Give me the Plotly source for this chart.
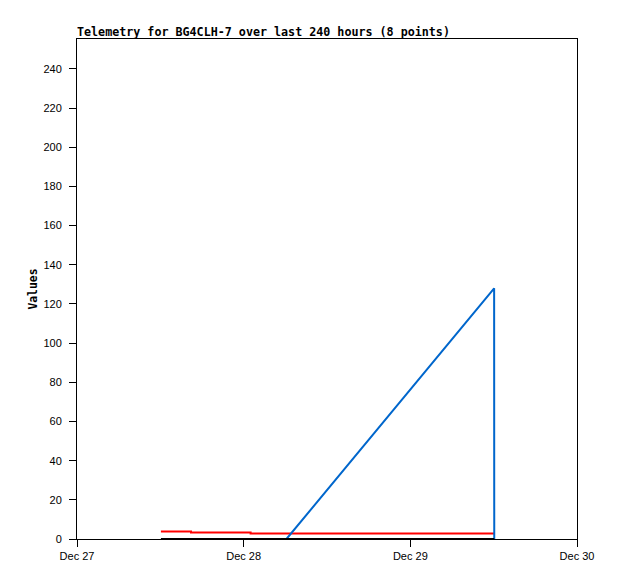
import plotly.graph_objects as go

title_text = "Telemetry for BG4CLH-7 over last 240 hours (8 points)"
y_title = "Values"

red_times = ["2023-12-27 12:05", "2023-12-27 16:25", "2023-12-28 01:00", "2023-12-29 12:05"]
red_values = [3.8, 3.3, 2.8, 2.8]

blue_times = ["2023-12-28 06:10", "2023-12-29 12:04", "2023-12-29 12:05"]
blue_values = [0, 128, 0]

black_times = ["2023-12-27 12:05", "2023-12-29 12:05"]
black_values = [0, 0]

x_tick_vals = ["2023-12-27", "2023-12-28", "2023-12-29", "2023-12-30"]
x_tick_text = ["Dec 27", "Dec 28", "Dec 29", "Dec 30"]
y_tick_vals = list(range(0, 241, 20))

fig = go.Figure()
fig.add_trace(go.Scatter(x=red_times, y=red_values, mode="lines", line=dict(color="#ff0000", width=2, shape="hv"), showlegend=False))
fig.add_trace(go.Scatter(x=blue_times, y=blue_values, mode="lines", line=dict(color="#0066cc", width=2), showlegend=False))
fig.add_trace(go.Scatter(x=black_times, y=black_values, mode="lines", line=dict(color="#000000", width=2), showlegend=False, cliponaxis=False))

mono = "DejaVu Sans Mono"
sans = "Liberation Sans"
W, H = 602, 565
T = 31
fig.update_layout(
    width=W, height=H,
    margin=dict(l=69, r=W - 69 - 500, t=T, b=H - T - 500),
    paper_bgcolor="white", plot_bgcolor="white",
    title=dict(text="<b>" + title_text + "</b>", x=69 / W, xanchor="left", y=1 - 24 / H, yanchor="middle",
               font=dict(family=mono, size=11.7, color="black")),
    font=dict(family=sans, size=11, color="black"),
    xaxis=dict(type="date", range=["2023-12-27", "2023-12-30"], tickvals=x_tick_vals, ticktext=x_tick_text,
               showgrid=False, zeroline=False, showline=True, linecolor="black", linewidth=1, mirror=True,
               ticks="outside", ticklen=7, tickcolor="black", tickfont=dict(family=sans, size=11)),
    yaxis=dict(range=[0, 255.3], tickvals=y_tick_vals, showgrid=False, zeroline=False, showline=True,
               linecolor="black", linewidth=1, mirror=True, ticks="outside", ticklen=7, tickcolor="black",
               tickfont=dict(family=sans, size=11), ticklabelstandoff=5,
               title=dict(text="<b>" + y_title + "</b>", font=dict(family=mono, size=11.4), standoff=3)),
)
fig.write_html("out.html")
